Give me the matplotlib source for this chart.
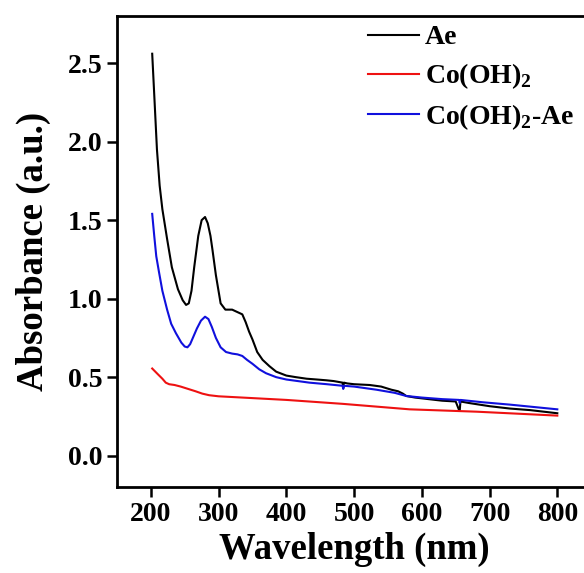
import numpy as np
import matplotlib
matplotlib.use('Agg')
import matplotlib.pyplot as plt

plt.rcParams['font.family'] = 'Liberation Serif'
plt.rcParams['font.weight'] = 'bold'
plt.rcParams['mathtext.fontset'] = 'custom'
plt.rcParams['mathtext.rm'] = 'Liberation Serif:bold'
plt.rcParams['mathtext.bf'] = 'Liberation Serif:bold'

# Ae
ae_wl = [202, 205, 209, 213, 217, 224, 231, 240, 247, 252, 256, 260, 264, 270, 275, 280,
         284, 288, 291, 296, 303, 310, 316, 320, 325, 330, 335, 340, 345, 350, 357, 365,
         375, 385, 400, 414, 430, 445, 459, 470, 483, 484, 485, 490, 500, 523, 540, 555,
         565, 572, 577, 590, 610, 630, 650, 655, 656, 657, 670, 700, 730, 760, 800]
ae_abs = [2.56, 2.30, 1.95, 1.72, 1.57, 1.38, 1.20, 1.06, 0.99, 0.96, 0.97, 1.05, 1.20, 1.40, 1.50, 1.52,
          1.48, 1.40, 1.31, 1.15, 0.97, 0.93, 0.93, 0.93, 0.92, 0.91, 0.90, 0.85, 0.79, 0.74, 0.66, 0.61,
          0.57, 0.535, 0.51, 0.50, 0.49, 0.485, 0.48, 0.475, 0.465, 0.43, 0.465, 0.46, 0.455, 0.45, 0.44, 0.42,
          0.41, 0.395, 0.38, 0.37, 0.36, 0.35, 0.345, 0.29, 0.29, 0.345, 0.335, 0.315, 0.30, 0.29, 0.27]

# Co(OH)2
co_wl = [202, 210, 217, 222, 227, 235, 244, 255, 266, 276, 286, 300, 335, 400, 483, 582, 681, 800]
co_abs = [0.555, 0.52, 0.49, 0.465, 0.455, 0.45, 0.44, 0.425, 0.41, 0.395, 0.385, 0.378, 0.37,
          0.355, 0.33, 0.295, 0.28, 0.255]

# Co(OH)2-Ae
coae_wl = [202, 205, 208, 212, 217, 224, 230, 237, 245, 250, 254, 258, 263, 268, 274, 280,
           285, 290, 296, 303, 311, 320, 328, 335, 342, 350, 360, 370, 385, 400, 434, 460,
           483, 484, 485, 500, 533, 560, 577, 600, 630, 655, 656, 657, 690, 730, 765, 800]
coae_abs = [1.54, 1.40, 1.27, 1.17, 1.05, 0.93, 0.84, 0.78, 0.72, 0.695, 0.69, 0.71, 0.76, 0.81, 0.86, 0.885,
            0.87, 0.82, 0.75, 0.69, 0.66, 0.65, 0.645, 0.635, 0.61, 0.585, 0.55, 0.525, 0.50, 0.485, 0.465, 0.455,
            0.445, 0.425, 0.445, 0.44, 0.42, 0.40, 0.38, 0.37, 0.36, 0.355, 0.335, 0.355, 0.34, 0.325, 0.31, 0.295]

fig = plt.figure(figsize=(5.84, 5.73), dpi=100)
ax = fig.add_axes([0.2003, 0.150, 0.812, 0.822])

ax.plot(ae_wl, ae_abs, color='black', lw=1.5, label='Ae')
ax.plot(co_wl, co_abs, color='#ee1111', lw=1.5, label=r'Co(OH)$_\mathbf{2}$')
ax.plot(coae_wl, coae_abs, color='#1010dd', lw=1.5, label=r'Co(OH)$_\mathbf{2}$-Ae')

ax.set_xlim(150, 850)
ax.set_ylim(-0.2, 2.8)
ax.set_xticks([200, 300, 400, 500, 600, 700, 800])
ax.set_yticks([0.0, 0.5, 1.0, 1.5, 2.0, 2.5])
ax.yaxis.set_major_formatter(matplotlib.ticker.FormatStrFormatter('%.1f'))
ax.tick_params(direction='out', length=7.5, width=1.8, labelsize=20, pad=3,
               top=False, right=False)
for s in ax.spines.values():
    s.set_linewidth(2)

ax.set_xlabel('Wavelength (nm)', fontsize=26.5, fontweight='bold', labelpad=4)
ax.set_ylabel('Absorbance (a.u.)', fontsize=26.5, fontweight='bold', labelpad=12)

ax.legend(loc='upper left', bbox_to_anchor=(0.505, 1.005), frameon=False, fontsize=20,
          handlelength=1.85, handletextpad=0.2, labelspacing=0.4, borderaxespad=0)

fig.savefig('out.png', dpi=100)
